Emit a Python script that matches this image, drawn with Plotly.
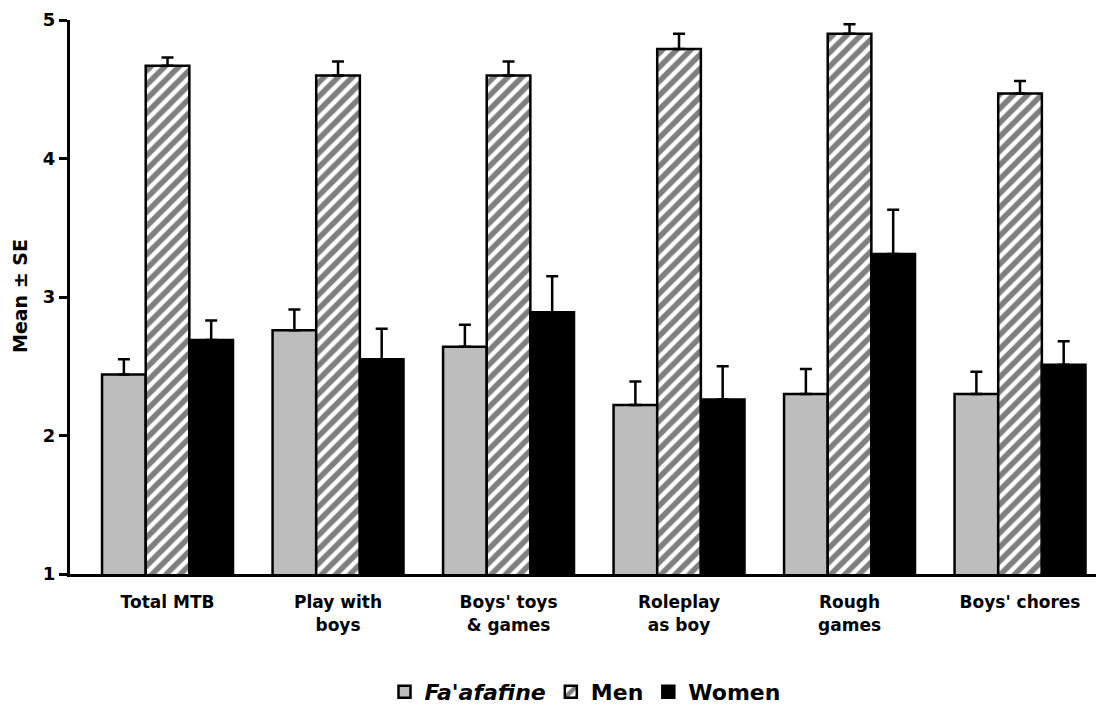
import plotly.graph_objects as go

categories = ["Total MTB", "Play with<br>boys", "Boys' toys<br>& games",
              "Roleplay<br>as boy", "Rough<br>games", "Boys' chores"]
series_names = ["<i>Fa'afafine</i>", "Men", "Women"]

faafafine_mean = [2.44, 2.76, 2.64, 2.22, 2.30, 2.30]
faafafine_se = [0.11, 0.15, 0.16, 0.17, 0.18, 0.16]
men_mean = [4.67, 4.60, 4.60, 4.79, 4.90, 4.47]
men_se = [0.06, 0.10, 0.10, 0.11, 0.07, 0.09]
women_mean = [2.69, 2.55, 2.89, 2.26, 3.31, 2.51]
women_se = [0.14, 0.22, 0.26, 0.24, 0.32, 0.17]

y_ticks = [1, 2, 3, 4, 5]

FONT = "DejaVu Sans"
x_idx = list(range(len(categories)))

def err(se):
    return dict(type="data", array=se, arrayminus=[0] * len(se), symmetric=False,
                color="black", thickness=2.5, width=6, visible=True)

fig = go.Figure()
fig.add_trace(go.Bar(
    x=x_idx, y=faafafine_mean, name=series_names[0],
    marker=dict(color="#bdbdbd", line=dict(color="black", width=2.5)),
    error_y=err(faafafine_se)))
fig.add_trace(go.Bar(
    x=x_idx, y=men_mean, name=series_names[1],
    marker=dict(color="white", line=dict(color="black", width=2.5),
                pattern=dict(shape="/", fgcolor="black", bgcolor="white",
                             size=10, solidity=0.55, fillmode="overlay")),
    error_y=err(men_se)))
fig.add_trace(go.Bar(
    x=x_idx, y=women_mean, name=series_names[2],
    marker=dict(color="black", line=dict(color="black", width=2.5)),
    error_y=err(women_se)))

# page body adds an 8px offset, so the figure is 8px smaller and margins shifted
fig.update_layout(
    width=1096, height=700,
    margin=dict(l=62, r=4, t=12, b=134, autoexpand=False),
    paper_bgcolor="white", plot_bgcolor="white",
    barmode="group", bargap=0.232, bargroupgap=0,
    font=dict(family=FONT, color="black", weight="bold"),
    showlegend=True,
    legend=dict(orientation="h", x=0.5, xanchor="center", xref="paper",
                y=-0.213, yanchor="middle", yref="paper",
                font=dict(size=22, family=FONT, weight="bold"),
                itemwidth=30, traceorder="normal"),
    xaxis=dict(
        range=[-0.572, 5.469], tickmode="array", tickvals=x_idx, ticktext=categories,
        showline=True, linecolor="black", linewidth=3, ticks="",
        showgrid=False, zeroline=False, ticklabelstandoff=11, automargin=False,
        tickfont=dict(size=17, family=FONT, weight="bold")),
    yaxis=dict(
        range=[1, 5], tickmode="array", tickvals=y_ticks,
        showline=True, linecolor="black", linewidth=3,
        ticks="outside", ticklen=8, tickwidth=2.5, tickcolor="black",
        showgrid=False, zeroline=False, automargin=False,
        tickfont=dict(size=18, family=FONT, weight="bold")),
    annotations=[dict(text="Mean ± SE", textangle=-90, xref="paper", yref="paper",
                      x=(20 - 70) / 1030, y=(574 - 296) / 554, xanchor="center",
                      yanchor="middle", showarrow=False,
                      font=dict(size=19, family=FONT, weight="bold"))],
)

fig.write_html("out.html")
